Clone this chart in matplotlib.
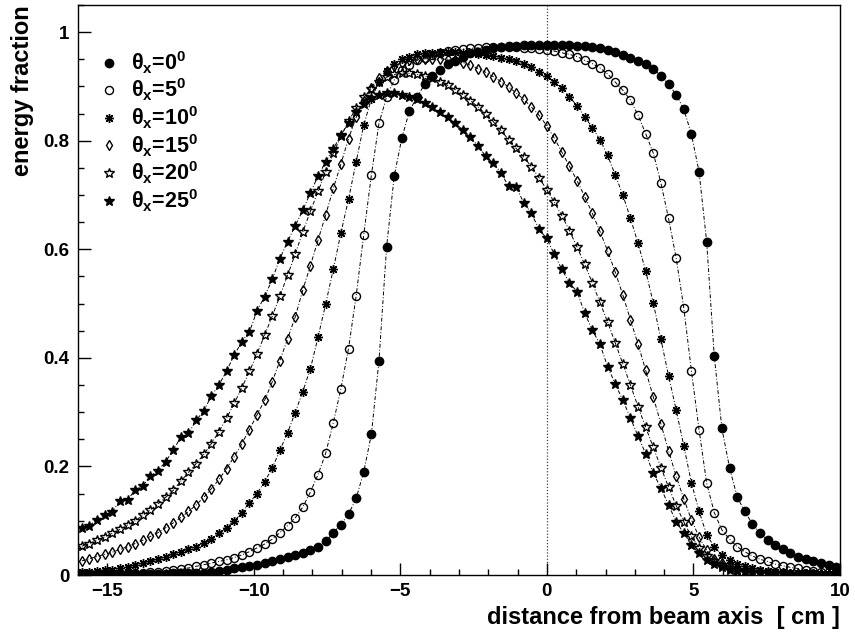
import numpy as np
import matplotlib
matplotlib.use("Agg")
import matplotlib.pyplot as plt
from matplotlib.lines import Line2D
from matplotlib.ticker import MultipleLocator

plt.rcParams['font.family'] = ['Liberation Sans', 'DejaVu Sans']
plt.rcParams['font.weight'] = 'bold'
plt.rcParams['mathtext.fontset'] = 'custom'
plt.rcParams['mathtext.rm'] = 'Liberation Sans:bold'
plt.rcParams['mathtext.bf'] = 'Liberation Sans:bold'
plt.rcParams['mathtext.it'] = 'Liberation Sans:bold'

# 100 bins from -16 to 10 cm
bin_edges = np.linspace(-16, 10, 101)
distance = 0.5 * (bin_edges[:-1] + bin_edges[1:])

angles = [0, 5, 10, 15, 20, 25]

frac_0 = [
    0.001, 0.001, 0.001, 0.001, 0.001, 0.001, 0.002, 0.002, 0.002, 0.002,
    0.002, 0.002, 0.003, 0.003, 0.003, 0.003, 0.004, 0.006, 0.008, 0.010,
    0.012, 0.014, 0.016, 0.019, 0.022, 0.025, 0.029, 0.033, 0.036, 0.040,
    0.046, 0.052, 0.062, 0.078, 0.093, 0.112, 0.141, 0.190, 0.259, 0.395,
    0.605, 0.735, 0.805, 0.855, 0.881, 0.904, 0.919, 0.930, 0.941, 0.947,
    0.955, 0.961, 0.964, 0.967, 0.970, 0.972, 0.974, 0.975, 0.976, 0.977,
    0.977, 0.977, 0.977, 0.977, 0.976, 0.975, 0.974, 0.972, 0.970, 0.967,
    0.963, 0.958, 0.953, 0.947, 0.942, 0.933, 0.919, 0.904, 0.885, 0.858,
    0.812, 0.743, 0.614, 0.403, 0.270, 0.198, 0.144, 0.117, 0.094, 0.077,
    0.064, 0.055, 0.047, 0.040, 0.034, 0.029, 0.026, 0.022, 0.018, 0.015]

frac_5 = [
    0.001, 0.001, 0.002, 0.002, 0.002, 0.003, 0.003, 0.003, 0.004, 0.005,
    0.006, 0.007, 0.009, 0.011, 0.013, 0.016, 0.019, 0.022, 0.025, 0.028,
    0.032, 0.037, 0.043, 0.050, 0.057, 0.066, 0.078, 0.091, 0.105, 0.125,
    0.153, 0.185, 0.224, 0.280, 0.343, 0.417, 0.514, 0.627, 0.737, 0.832,
    0.881, 0.912, 0.930, 0.940, 0.948, 0.953, 0.958, 0.962, 0.965, 0.967,
    0.969, 0.970, 0.971, 0.972, 0.972, 0.972, 0.972, 0.972, 0.971, 0.970,
    0.969, 0.967, 0.965, 0.962, 0.959, 0.955, 0.948, 0.942, 0.934, 0.923,
    0.908, 0.893, 0.875, 0.847, 0.813, 0.777, 0.722, 0.657, 0.584, 0.492,
    0.376, 0.268, 0.169, 0.115, 0.083, 0.066, 0.052, 0.043, 0.035, 0.029,
    0.025, 0.020, 0.017, 0.014, 0.012, 0.010, 0.008, 0.006, 0.005, 0.004]

frac_10 = [
    0.005, 0.006, 0.008, 0.009, 0.010, 0.012, 0.015, 0.018, 0.022, 0.025,
    0.029, 0.034, 0.039, 0.043, 0.048, 0.052, 0.059, 0.067, 0.077, 0.087,
    0.100, 0.114, 0.133, 0.150, 0.172, 0.197, 0.230, 0.262, 0.299, 0.338,
    0.380, 0.438, 0.499, 0.563, 0.630, 0.692, 0.761, 0.829, 0.877, 0.908,
    0.928, 0.941, 0.950, 0.955, 0.959, 0.961, 0.962, 0.963, 0.963, 0.963,
    0.962, 0.961, 0.960, 0.958, 0.956, 0.953, 0.950, 0.946, 0.941, 0.935,
    0.927, 0.919, 0.908, 0.897, 0.881, 0.864, 0.844, 0.824, 0.802, 0.773,
    0.737, 0.700, 0.657, 0.611, 0.560, 0.501, 0.434, 0.367, 0.304, 0.238,
    0.170, 0.118, 0.074, 0.052, 0.037, 0.028, 0.021, 0.016, 0.012, 0.010,
    0.008, 0.006, 0.005, 0.004, 0.004, 0.003, 0.003, 0.002, 0.002, 0.002]

frac_15 = [
    0.026, 0.030, 0.034, 0.038, 0.042, 0.047, 0.052, 0.058, 0.064, 0.071,
    0.078, 0.087, 0.096, 0.106, 0.117, 0.129, 0.143, 0.159, 0.176, 0.196,
    0.218, 0.242, 0.268, 0.295, 0.322, 0.356, 0.395, 0.435, 0.475, 0.525,
    0.570, 0.617, 0.663, 0.712, 0.757, 0.804, 0.843, 0.874, 0.898, 0.916,
    0.929, 0.938, 0.944, 0.948, 0.950, 0.951, 0.951, 0.951, 0.950, 0.948,
    0.944, 0.939, 0.933, 0.926, 0.918, 0.909, 0.899, 0.888, 0.876, 0.862,
    0.847, 0.828, 0.805, 0.779, 0.753, 0.726, 0.697, 0.666, 0.633, 0.597,
    0.558, 0.516, 0.470, 0.425, 0.377, 0.328, 0.278, 0.229, 0.182, 0.140,
    0.102, 0.070, 0.046, 0.030, 0.022, 0.016, 0.012, 0.009, 0.007, 0.005,
    0.004, 0.003, 0.003, 0.002, 0.002, 0.002, 0.001, 0.001, 0.001, 0.001]

frac_20 = [
    0.053, 0.058, 0.064, 0.070, 0.077, 0.084, 0.092, 0.100, 0.110, 0.120,
    0.131, 0.143, 0.156, 0.173, 0.189, 0.205, 0.222, 0.242, 0.264, 0.289,
    0.316, 0.345, 0.375, 0.408, 0.442, 0.477, 0.514, 0.552, 0.591, 0.632,
    0.670, 0.707, 0.742, 0.777, 0.808, 0.836, 0.860, 0.880, 0.896, 0.908,
    0.917, 0.922, 0.925, 0.924, 0.922, 0.919, 0.915, 0.909, 0.902, 0.894,
    0.885, 0.874, 0.862, 0.849, 0.835, 0.819, 0.802, 0.786, 0.770, 0.752,
    0.732, 0.710, 0.687, 0.662, 0.634, 0.604, 0.572, 0.538, 0.502, 0.466,
    0.428, 0.389, 0.350, 0.310, 0.272, 0.235, 0.198, 0.162, 0.128, 0.098,
    0.071, 0.050, 0.035, 0.025, 0.018, 0.013, 0.010, 0.008, 0.006, 0.005,
    0.004, 0.003, 0.003, 0.002, 0.002, 0.002, 0.001, 0.001, 0.001, 0.001]

frac_25 = [
    0.086, 0.091, 0.102, 0.110, 0.116, 0.137, 0.138, 0.157, 0.164, 0.183,
    0.192, 0.209, 0.230, 0.254, 0.261, 0.285, 0.302, 0.330, 0.350, 0.376,
    0.405, 0.430, 0.448, 0.487, 0.513, 0.545, 0.583, 0.614, 0.643, 0.672,
    0.704, 0.735, 0.761, 0.785, 0.810, 0.833, 0.852, 0.867, 0.878, 0.885,
    0.888, 0.887, 0.885, 0.881, 0.876, 0.869, 0.862, 0.853, 0.843, 0.832,
    0.820, 0.807, 0.790, 0.772, 0.759, 0.741, 0.716, 0.714, 0.686, 0.666,
    0.637, 0.620, 0.591, 0.563, 0.538, 0.522, 0.482, 0.451, 0.425, 0.384,
    0.352, 0.322, 0.289, 0.256, 0.223, 0.188, 0.160, 0.129, 0.098, 0.077,
    0.055, 0.040, 0.028, 0.020, 0.014, 0.010, 0.008, 0.006, 0.005, 0.004,
    0.003, 0.003, 0.002, 0.002, 0.002, 0.001, 0.001, 0.001, 0.001, 0.001]

series = [frac_0, frac_5, frac_10, frac_15, frac_20, frac_25]

# marker, size, filled
styles = [
    ('o', 6.0, True),
    ('o', 5.8, False),
    ((8, 2, 0), 6.5, True),
    ('d', 5.0, False),
    ('*', 7.0, False),
    ('*', 7.0, True),
]

fig = plt.figure(figsize=(8.55, 6.35), dpi=100)
ax = fig.add_axes([78 / 855, 60 / 635, 762 / 855, 570 / 635])

ax.axvline(0, color='0.25', lw=0.9, ls=(0, (1, 1.5)), zorder=1)

handles = []
for ang, vals, (mk, ms, filled) in zip(angles, series, styles):
    fc = 'black' if filled else 'none'
    ax.plot(distance, vals, ls=(0, (4, 2, 1, 2)), lw=0.7, color='black',
            zorder=2)
    ax.plot(distance, vals, ls='none', marker=mk, ms=ms, mfc=fc,
            mec='black', mew=1.0, zorder=3)
    handles.append(Line2D([], [], ls='none', marker=mk, ms=ms, mfc=fc,
                          mec='black', mew=1.0))

labels = [r'θ$_{\mathbf{x}}$=%d$^{\mathbf{0}}$' % a for a in angles]
ax.legend(handles, labels, loc='upper left', bbox_to_anchor=(0.0, 0.96),
          frameon=False, fontsize=15.5, handlelength=0.9, handletextpad=0.55,
          labelspacing=0.05, borderaxespad=0.6)

ax.set_xlim(-16, 10)
ax.set_ylim(0, 1.05)
ax.xaxis.set_major_locator(MultipleLocator(5))
ax.xaxis.set_minor_locator(MultipleLocator(1))
ax.yaxis.set_major_locator(MultipleLocator(0.2))
ax.yaxis.set_minor_locator(MultipleLocator(0.05))
ax.yaxis.set_major_formatter(plt.FuncFormatter(lambda v, p: '%g' % round(v, 2)))
ax.tick_params(which='both', direction='in', top=False, right=False,
               labelsize=13.5, width=1.0)
ax.tick_params(which='major', length=9, pad=6)
ax.tick_params(which='minor', length=4.5)
for s in ax.spines.values():
    s.set_linewidth(1.0)

ax.set_xlabel('distance from beam axis  [ cm ]', fontsize=17, fontweight='bold',
              loc='right', labelpad=4)
ax.set_ylabel('energy fraction', fontsize=17, fontweight='bold', loc='top',
              labelpad=7)

fig.savefig('out.png', dpi=100)
